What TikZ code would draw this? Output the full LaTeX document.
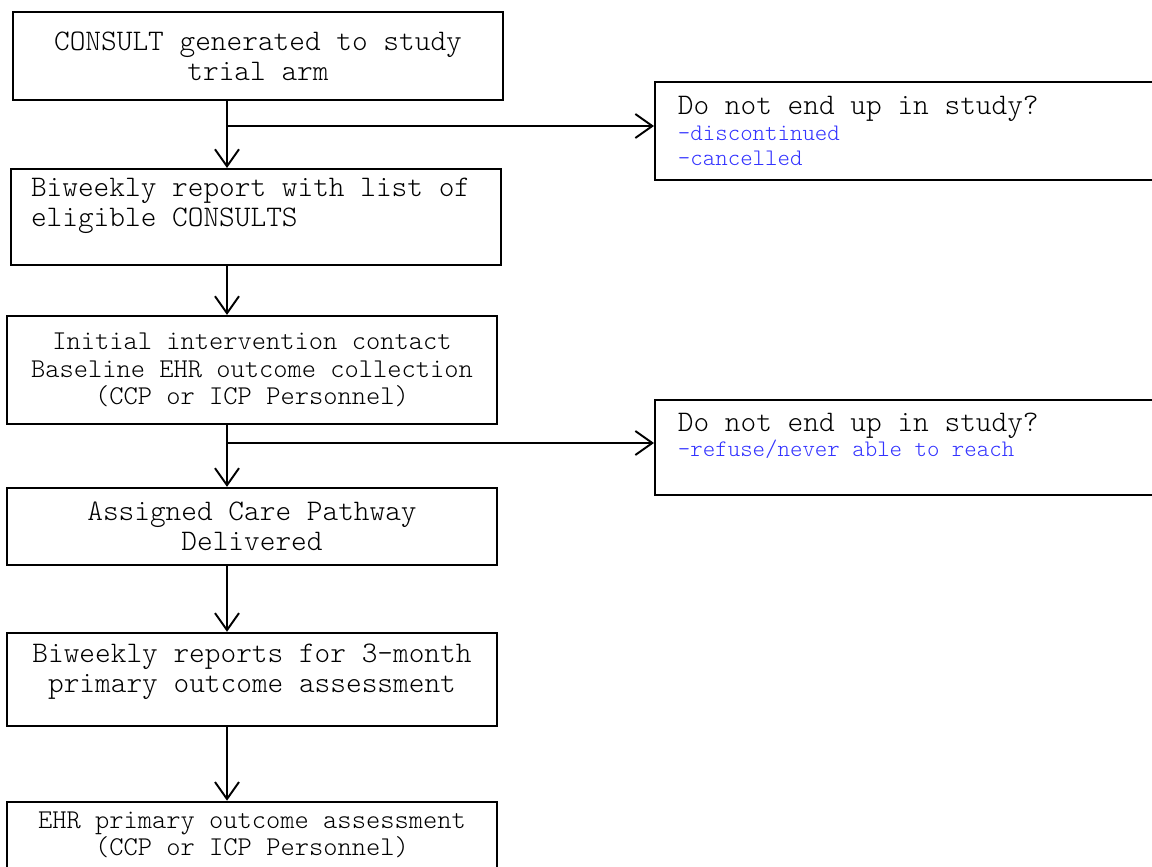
\documentclass[tikz,border=0pt]{standalone}
\usepackage{fontspec}
\setmonofont{Latin Modern Mono Light}
\usetikzlibrary{arrows.meta,positioning}

\definecolor{dropblue}{RGB}{51,51,255}
% monospaced text with full-width spaces
\newcommand{\monosize}[2]{\ttfamily\fontsize{#1}{#2}\selectfont}
\newcommand{\dropnote}[1]{{\color{dropblue}\monosize{13.5}{14.2}\spaceskip=0.525em\relax#1}}

\begin{document}
\begin{tikzpicture}[->,>={Straight Barb[length=0.34cm,width=0.48cm]},line width=1.1pt,
                    every node/.style={execute at begin node={\spaceskip=0.525em\relax}},
                    stepbox/.style={draw,minimum width=9.8cm,text width=9.2cm,inner xsep=0.3cm,
                                    align=center,font=\monosize{17}{17}},
                    smallbox/.style={stepbox,font=\monosize{15.45}{15.6}},
                    dropbox/.style={draw,anchor=north west,minimum width=10.22cm,text width=9.3cm,
                                    inner xsep=0.46cm,align=left,font=\monosize{17}{14.6}}]

  \useasboundingbox (0,0) rectangle (23.04,-17.32);

  \node[stepbox,minimum height=1.76cm]  (consult) at (5.16,-1.12) {CONSULT generated to study\\trial arm};
  \node[stepbox,minimum height=1.92cm,align=left,inner xsep=0.4cm,text width=9.0cm]
        (report) [below=1.34cm of consult,xshift=-0.04cm] {Biweekly report with list of\\eligible CONSULTS\\ \mbox{}};
  \node[smallbox,minimum height=2.16cm] (contact) [below=0.98cm of report,xshift=-0.08cm]
        {Initial intervention contact\\Baseline EHR outcome collection\\(CCP or ICP Personnel)};
  \node[stepbox,minimum height=1.54cm]  (pathway) [below=1.24cm of contact]
        {Assigned Care Pathway\\Delivered};
  \node[stepbox,minimum height=1.86cm]  (reports) [below=1.32cm of pathway]
        {Biweekly reports for 3-month\\primary outcome assessment\\[-0.15cm]\mbox{}};
  \node[smallbox,minimum height=1.84cm] (outcome) [below=1.48cm of reports]
        {EHR primary outcome assessment\\(CCP or ICP Personnel)\\ \mbox{}};

  \node[dropbox,minimum height=1.96cm] (dropA) at (13.08,-1.62)
        {Do not end up in study?\\\dropnote{-discontinued}\\\dropnote{-cancelled}};
  \node[dropbox,minimum height=1.9cm]  (dropB) at (13.08,-7.98)
        {Do not end up in study?\\\dropnote{-refuse/never able to reach}\\\dropnote{\mbox{}}};

  \coordinate (spine)  at (4.54,0);
  \coordinate (splitA) at (4.54,-2.52);
  \coordinate (splitB) at (4.54,-8.86);

  \draw (consult.south -| spine) -- (report.north -| spine);
  \draw (report.south -| spine)  -- (contact.north -| spine);
  \draw (contact.south -| spine) -- (pathway.north -| spine);
  \draw (pathway.south -| spine) -- (reports.north -| spine);
  \draw (reports.south -| spine) -- (outcome.north -| spine);

  \draw (splitA) -- (splitA -| dropA.west);
  \draw (splitB) -- (splitB -| dropB.west);
\end{tikzpicture}
\end{document}
